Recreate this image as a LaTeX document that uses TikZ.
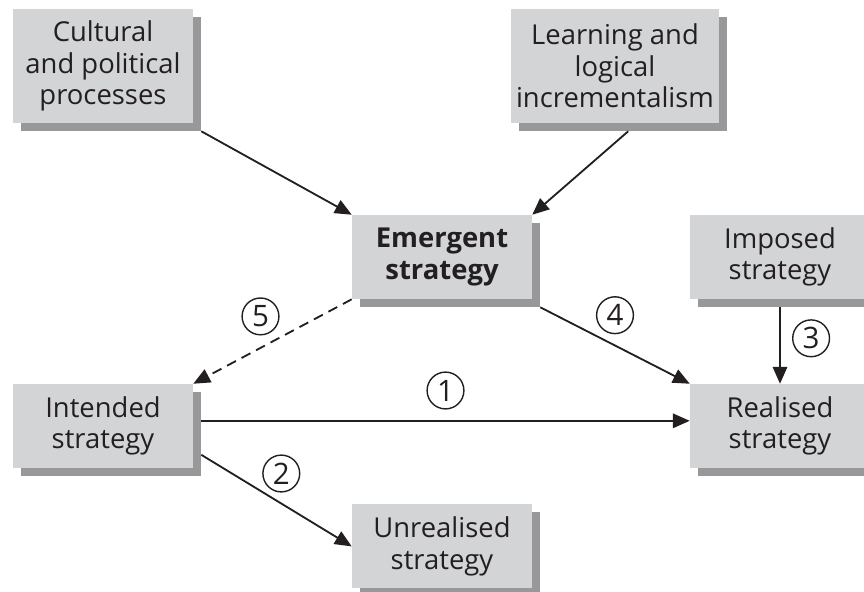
\documentclass[tikz,border=0pt]{standalone}
\usepackage{fontspec}
\setmainfont{Open Sans}
\usepackage{xcolor}
\usetikzlibrary{arrows.meta, shadows}

\definecolor{boxgrey}{HTML}{D3D4D6}
\definecolor{shadowgrey}{HTML}{98989B}
\definecolor{inkgrey}{HTML}{231F20}

\begin{document}
\begin{tikzpicture}[
    box/.style={fill=boxgrey, minimum width=4.5cm, minimum height=2.1cm, align=center, text=inkgrey,
        font=\fontsize{19.5}{22.5}\selectfont,
        drop shadow={shadow xshift=0.2cm, shadow yshift=-0.2cm, fill=shadowgrey, opacity=1}},
    arrow/.style={-{Triangle[length=0.42cm, width=0.36cm]}, line width=1.3pt, draw=inkgrey},
    dasharrow/.style={arrow, dash pattern=on 0.25cm off 0.16cm},
    num/.style={circle, solid, draw=inkgrey, line width=1pt, minimum size=0.92cm, inner sep=0pt, text=inkgrey,
        font=\fontsize{21}{21}\selectfont}
]
    \useasboundingbox (0,0) rectangle (21.6,-14.775);

    \node[box, minimum height=2.85cm] (cult) at (2.575, -1.65) {Cultural\\and political\\processes};
    \node[box, minimum height=2.85cm, minimum width=4.65cm] (learn) at (15.375, -1.65) {Learning and\\logical\\incrementalism};
    \node[box] (emer) at (11.05, -6.425) {\textbf{Emergent}\\\textbf{strategy}};
    \node[box] (imp) at (19.5, -6.425) {Imposed\\strategy};
    \node[box] (int) at (2.575, -10.65) {Intended\\strategy};
    \node[box] (real) at (19.5, -10.65) {Realised\\strategy};
    \node[box] (unr) at (11.05, -13.66) {Unrealised\\strategy};

    \draw[arrow] ([shift={(0.2,-0.2)}]cult.south east) -- (emer.north west);
    \draw[arrow] ([shift={(0.33,-0.2)}]learn.south) -- (emer.north east);
    \draw[dasharrow] (emer.south west) -- node[num, midway, above=0.15cm, xshift=-0.3cm] (n5) {5} (int.north east);
    \draw[arrow] ([shift={(0.2,-0.2)}]emer.south east) -- node[num, midway, above=0.28cm] (n4) {4} (real.north west);
    \draw[arrow] ([yshift=-0.2cm]imp.south) -- node[num, midway, right=0.3cm, yshift=0.18cm] (n3) {3} (real.north);
    \draw[arrow] ([shift={(0.2,0.13)}]int.east) -- node[num, midway, above=0.28cm] (n1) {1} ([yshift=0.13cm]real.west);
    \draw[arrow] ([shift={(0.2,-0.72)}]int.east) -- node[num, midway, above=0.2cm, xshift=0.12cm] (n2) {2} (unr.west);

\end{tikzpicture}
\end{document}
